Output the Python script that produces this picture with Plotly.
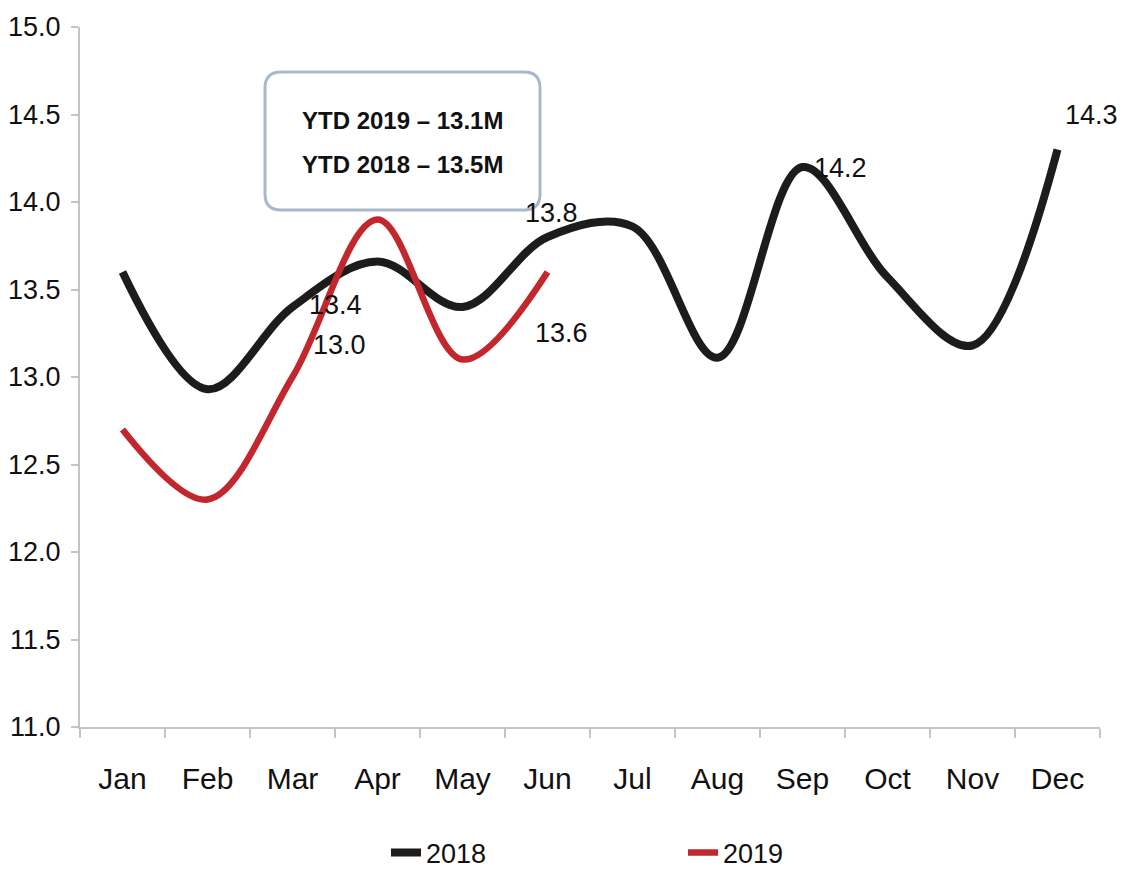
import plotly.graph_objects as go

months = ["Jan", "Feb", "Mar", "Apr", "May", "Jun", "Jul", "Aug", "Sep", "Oct", "Nov", "Dec"]
values_2018 = [13.6, 12.93, 13.4, 13.66, 13.4, 13.8, 13.86, 13.11, 14.2, 13.57, 13.18, 14.3]
months_2019 = ["Jan", "Feb", "Mar", "Apr", "May", "Jun"]
values_2019 = [12.7, 12.3, 13.0, 13.9, 13.1, 13.6]
y_ticks = [11.0, 11.5, 12.0, 12.5, 13.0, 13.5, 14.0, 14.5, 15.0]

# data labels: (month, value, offset x px, offset y px)
labels_2018 = [("Mar", 13.4, 43, 2), ("Jun", 13.8, 4, 24), ("Sep", 14.2, 38, -1), ("Dec", 14.3, 34, 35)]
labels_2019 = [("Mar", 13.0, 47, 32), ("Jun", 13.6, 14, -61)]
box_lines = ["YTD 2019 – 13.1M", "YTD 2018 – 13.5M"]

FONT = "Liberation Sans Narrow, Arial Narrow, Liberation Sans, Arial, sans-serif"
BLACK = "#1c1c1c"
RED = "#c1272d"
AXIS = "#c4c4c4"

fig = go.Figure()
fig.add_trace(go.Scatter(x=months, y=values_2018, name="2018", mode="lines",
                         line=dict(color=BLACK, width=8, shape="spline", smoothing=1.0)))
fig.add_trace(go.Scatter(x=months_2019, y=values_2019, name="2019", mode="lines",
                         line=dict(color=RED, width=6.5, shape="spline", smoothing=1.0)))

annotations = []
for m, v, dx, dy in labels_2018 + labels_2019:
    annotations.append(dict(x=m, y=v, xref="x", yref="y", text=f"{v:.1f}", showarrow=False,
                            xshift=dx, yshift=dy, font=dict(family=FONT, size=27, color="#111111")))

# rounded box (paper coords)
def px_to_paper(px, py):
    return (px - 80) / 1020, (727 - py) / 700

x0, y0 = px_to_paper(265, 210)
x1, y1 = px_to_paper(540, 72)
rx, ry = 16 / 1020, 16 / 700
path = (f"M {x0+rx},{y1} L {x1-rx},{y1} Q {x1},{y1} {x1},{y1-ry} "
        f"L {x1},{y0+ry} Q {x1},{y0} {x1-rx},{y0} L {x0+rx},{y0} Q {x0},{y0} {x0},{y0+ry} "
        f"L {x0},{y1-ry} Q {x0},{y1} {x0+rx},{y1} Z")
fig.add_shape(type="path", path=path, xref="paper", yref="paper",
              line=dict(color="#a9b9cc", width=3), fillcolor="white", layer="above")

for i, t in enumerate(box_lines):
    yy = px_to_paper(0, 121 + 43 * i)[1]
    annotations.append(dict(x=px_to_paper(402, 0)[0], y=yy, xref="paper", yref="paper", text=f"<b>{t}</b>",
                            showarrow=False, font=dict(family="Liberation Sans, Arial, sans-serif", size=24, color="#111111"),
                            xanchor="center", yanchor="middle"))

fig.update_layout(
    width=1124, height=871,
    margin=dict(l=80, r=24, t=27, b=144, autoexpand=False),
    paper_bgcolor="white", plot_bgcolor="white",
    annotations=annotations,
    showlegend=True,
    legend=dict(orientation="h", x=0.30, xanchor="left", y=-0.18, yanchor="middle",
                font=dict(family=FONT, size=27, color="#111111"), entrywidth=252,
                bgcolor="rgba(0,0,0,0)"),
    font=dict(family=FONT, color="#111111"),
)
fig.update_xaxes(type="category", categoryorder="array", categoryarray=months, range=[-0.5, 11.5],
                 showline=True, linecolor=AXIS, linewidth=2, ticks="outside", tickson="boundaries",
                 ticklen=9, tickcolor=AXIS, tickwidth=1.5, showgrid=False, zeroline=False, automargin=False,
                 tickfont=dict(family=FONT, size=30, color="#111111"), ticklabelstandoff=24)
fig.update_yaxes(range=[11, 15], tickmode="array", tickvals=y_ticks, ticktext=[f"{v:.1f}" for v in y_ticks],
                 showline=True, linecolor=AXIS, linewidth=2, ticks="outside", ticklen=7, tickcolor=AXIS,
                 tickwidth=1.5, showgrid=False, zeroline=False, automargin=False,
                 tickfont=dict(family=FONT, size=27, color="#111111"), ticklabelstandoff=5)

fig.write_html("out.html")
